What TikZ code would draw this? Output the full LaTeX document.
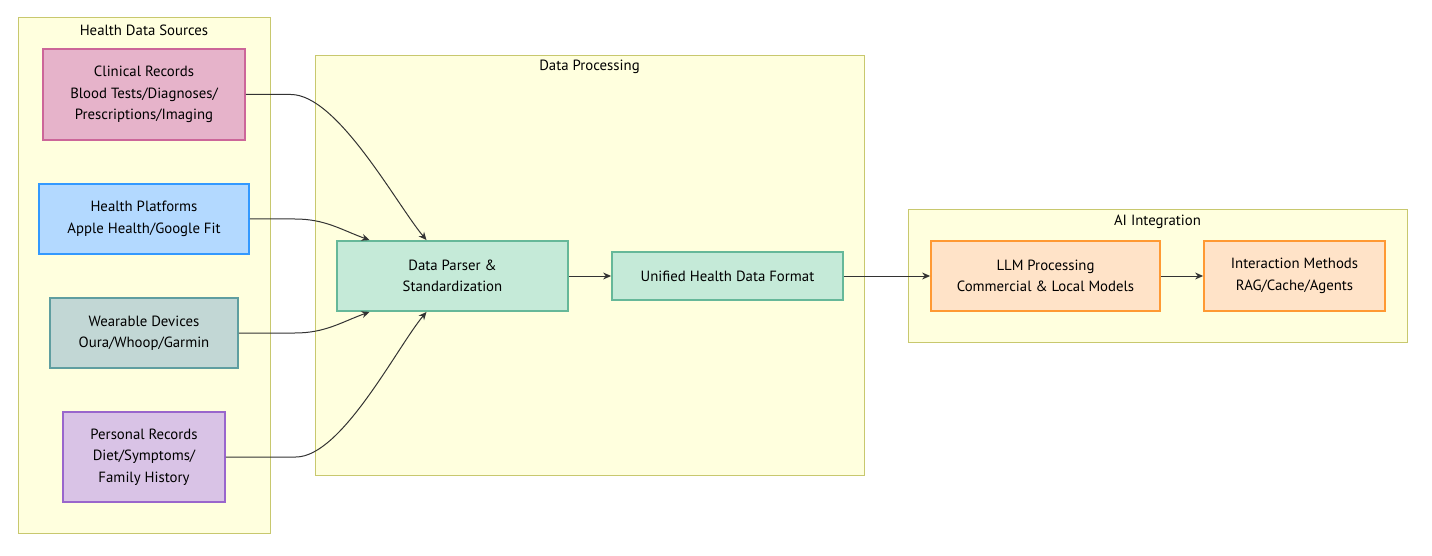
\documentclass[tikz,border=0pt]{standalone}
\usepackage{fontspec}
\setmainfont{PT Sans}
\usepackage{xcolor}
\usetikzlibrary{positioning,arrows.meta}

\definecolor{clusterfill}{HTML}{FFFFDE}
\definecolor{clusterline}{HTML}{C8C86E}
\definecolor{linegray}{HTML}{333333}
\definecolor{clinfill}{HTML}{E6B3CA}
\definecolor{clinline}{HTML}{CC6699}
\definecolor{platfill}{HTML}{B3D9FF}
\definecolor{platline}{HTML}{3399FF}
\definecolor{wearfill}{HTML}{C2D7D5}
\definecolor{wearline}{HTML}{5F9EA0}
\definecolor{persfill}{HTML}{D9C3E6}
\definecolor{persline}{HTML}{9966CC}
\definecolor{procfill}{HTML}{C5EAD8}
\definecolor{procline}{HTML}{66B899}
\definecolor{aifill}{HTML}{FFE3C8}
\definecolor{ailine}{HTML}{FF9933}

\begin{document}
\begin{tikzpicture}[
            x = 1pt, y = -1pt, % pixel grid, y pointing down
            > = {Stealth[length=8pt,width=7pt]}, % arrow head style
            line width = 1pt, % line style
            font = \fontsize{14.8}{21.5}\selectfont
        ]

        \tikzstyle{cluster}=[
            draw = clusterline,
            fill = clusterfill,
            line width = 1pt,
            inner sep = 0pt
        ]
        \tikzstyle{box}=[
            line width = 1.8pt,
            align = center,
            inner sep = 0pt
        ]
        \tikzstyle{flow}=[->, draw = linegray]

        \useasboundingbox (0,0) rectangle (1432,556);

        % clusters
        \node[cluster, minimum width=252pt, minimum height=515pt] (sources) at (144,275.5) {};
        \node[cluster, minimum width=549pt, minimum height=419pt] (processing) at (589.5,265.5) {};
        \node[cluster, minimum width=499pt, minimum height=132pt] (ai) at (1157.5,276) {};
        \node (sourcestitle) at (144,30) {Health Data Sources};
        \node (processingtitle) at (589.5,67) {Data Processing};
        \node (aititle) at (1157.5,222) {AI Integration};

        % sources
        \node[box, draw=clinline, fill=clinfill, minimum width=202pt, minimum height=91pt] (clinical) at (144,94.5)
            {Clinical Records\\Blood Tests/Diagnoses/\\Prescriptions/Imaging};
        \node[box, draw=platline, fill=platfill, minimum width=210pt, minimum height=70pt] (platforms) at (144,219)
            {Health Platforms\\Apple Health/Google Fit};
        \node[box, draw=wearline, fill=wearfill, minimum width=188pt, minimum height=70pt] (wearables) at (144,333)
            {Wearable Devices\\Oura/Whoop/Garmin};
        \node[box, draw=persline, fill=persfill, minimum width=162pt, minimum height=90pt] (personal) at (144,457)
            {Personal Records\\Diet/Symptoms/\\Family History};

        % processing
        \node[box, draw=procline, fill=procfill, minimum width=231pt, minimum height=70pt] (parser) at (452.5,276)
            {Data Parser \&\\Standardization};
        \node[box, draw=procline, fill=procfill, minimum width=231pt, minimum height=48pt] (unified) at (727.5,276)
            {Unified Health Data Format};

        % ai
        \node[box, draw=ailine, fill=aifill, minimum width=229pt, minimum height=70pt] (llm) at (1045.5,276)
            {LLM Processing\\Commercial \& Local Models};
        \node[box, draw=ailine, fill=aifill, minimum width=181pt, minimum height=70pt] (methods) at (1294.5,276)
            {Interaction Methods\\RAG/Cache/Agents};

        \draw[flow] (clinical.east) -- ++(45,0) to[out=0, in=130, looseness=0.6] ([xshift=-26pt]parser.north);
        \draw[flow] (platforms.east) -- ++(45,0) to[out=0, in=160] ([xshift=-83pt]parser.south |- parser.north);
        \draw[flow] (wearables.east) -- ++(56,0) to[out=0, in=200] ([xshift=-83pt]parser.south);
        \draw[flow] (personal.east) -- ++(70,0) to[out=0, in=230, looseness=0.6] ([xshift=-26pt]parser.south);
        \draw[flow] (parser) -- (unified);
        \draw[flow] (unified) -- (llm);
        \draw[flow] (llm) -- (methods);
    \end{tikzpicture}
\end{document}
